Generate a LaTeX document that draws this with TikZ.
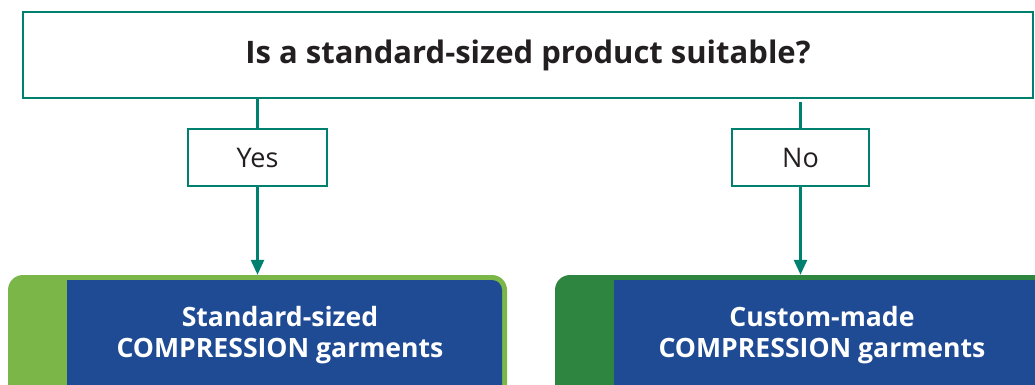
\documentclass[tikz,border=0pt]{standalone}
\usepackage{fontspec}
\setmainfont{Open Sans}
\definecolor{flowteal}{HTML}{00806F}
\definecolor{textgrey}{HTML}{231F20}
\definecolor{lightleaf}{HTML}{7AB648}
\definecolor{darkleaf}{HTML}{2E8540}
\definecolor{garmentblue}{HTML}{1F4A94}
\tikzset{
	question/.style={rectangle, draw=flowteal, line width=2.4pt, text=textgrey, font=\fontsize{31}{35}\selectfont\bfseries},
	answer/.style={rectangle, draw=flowteal, line width=2.2pt, fill=white, text=textgrey, font=\fontsize{27}{31}\selectfont},
	garment/.style={rectangle, rounded corners=15pt, inner sep=0pt},
	garmenttext/.style={text=white, align=center, font=\fontsize{26.6}{31.5}\selectfont\bfseries},
	flowline/.style={draw=flowteal, line width=2.6pt},
	flowarrow/.style={flowline, -{Triangle[length=15pt, width=13pt]}}
}
\usetikzlibrary{arrows.meta}
\begin{document}
\begin{tikzpicture}[x=1pt, y=-1pt]
	\clip (0,0) rectangle (1035,385);
	\useasboundingbox (0,0) rectangle (1035,385);

	\node[question, minimum width=1010pt, minimum height=86pt] (ask) at (528,55)
		{Is a standard-sized product suitable?};

	\node[answer, minimum width=139pt, minimum height=57pt] (yes) at (257.5,157.5) {Yes};
	\node[answer, minimum width=137pt, minimum height=57pt] (no) at (800.5,157.5) {No};

	% bottom boxes
	\node[garment, fill=lightleaf, minimum width=499pt, minimum height=160pt] (standardbox) at (257.5,355) {};
	\fill[garmentblue] (67,440) -- (67,280) [rounded corners=10pt] -- (502,280) -- (502,440);
	\node[garment, fill=darkleaf, minimum width=520pt, minimum height=160pt] (custombox) at (815,355) {};
	\fill[garmentblue] (614,440) -- (614,280) -- (1060,280) -- (1060,440);

	\node[garmenttext] (standard) at (280,335) {Standard-sized\\COMPRESSION garments};
	\node[garmenttext] (custom) at (822,335) {Custom-made\\COMPRESSION garments};

	\draw[flowline] (ask.south -| yes.north) -- (yes.north);
	\draw[flowline] (ask.south -| no.north) ++(0,3) -- (no.north);
	\draw[flowarrow] (yes.south) -- (standardbox.north -| yes.south);
	\draw[flowarrow] (no.south) -- (custombox.north -| no.south);
\end{tikzpicture}
\end{document}
